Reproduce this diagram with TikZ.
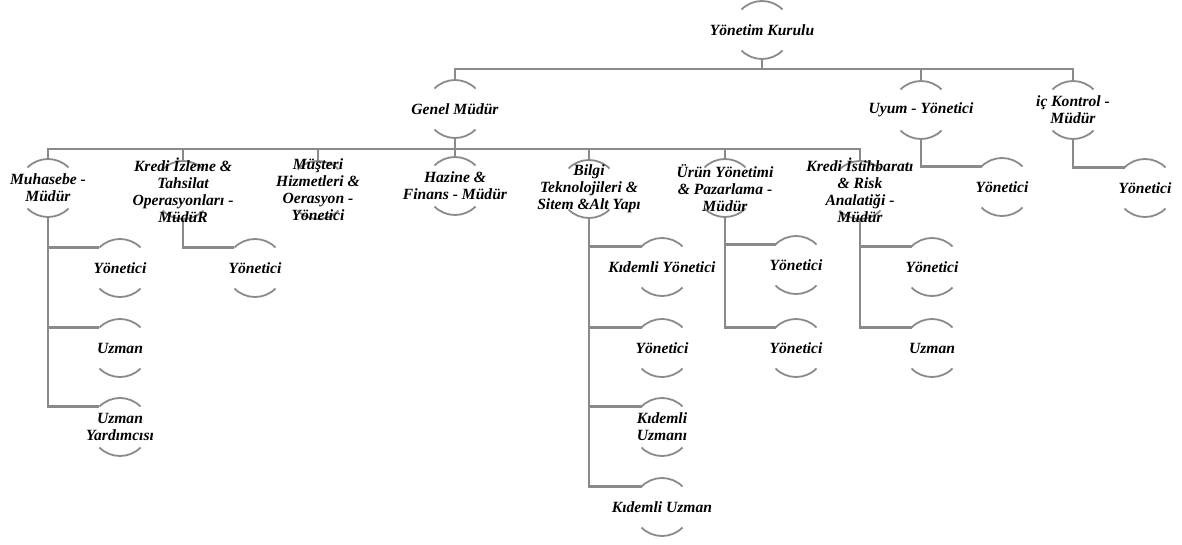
\documentclass[tikz,border=0pt]{standalone}
\usepackage{fontspec}
\setmainfont{Liberation Serif}
\usetikzlibrary{backgrounds}

\definecolor{linegray}{RGB}{138,138,138}
\tikzset{
  post/.style={align=center, inner sep=0pt, text=black,
    font=\fontsize{15.6}{17}\selectfont\bfseries\itshape},
  conn/.style={draw=linegray, line width=2.4pt},
  rim/.style={draw=linegray, line width=1.8pt},
}

\begin{document}
\begin{tikzpicture}[x=1pt,y=1pt]
\useasboundingbox (0,0) rectangle (1182,-544);

% top levels
\node[post] (yk) at (762,-30) {Yönetim Kurulu};
\node[post] (gm) at (455,-109) {Genel Müdür};
\node[post] (uy) at (921,-110) {Uyum - Yönetici};
\node[post] (ik) at (1073,-110) {iç Kontrol -\\Müdür};
\node[post] (uy1) at (1002,-187) {Yönetici};
\node[post] (ik1) at (1145,-188) {Yönetici};

% departments
\node[post] (mh) at (48,-188) {Muhasebe -\\Müdür};
\node[post] (kiz) at (183,-190) {Kredi İzleme \&\\Tahsilat\\Operasyonları -\\MüdüR};
\node[post] (ms) at (318,-190) {Müşteri\\Hizmetleri \&\\Oerasyon -\\Yönetici};
\node[post] (hz) at (455,-186) {Hazine \&\\Finans - Müdür};
\node[post] (bt) at (589,-189) {Bilgi\\Teknolojileri \&\\Sitem \&Alt Yapı};
\node[post] (ur) at (725,-188) {Ürün Yönetimi\\\& Pazarlama -\\Müdür};
\node[post] (kis) at (860,-190) {Kredi İstihbaratı\\\& Risk\\Analatiği -\\Müdür};

% staff
\node[post] (mh1) at (120,-268) {Yönetici};
\node[post] (mh2) at (120,-348) {Uzman};
\node[post] (mh3) at (120,-427) {Uzman\\Yardımcısı};
\node[post] (kiz1) at (255,-268) {Yönetici};
\node[post] (bt1) at (662,-267) {Kıdemli Yönetici};
\node[post] (bt2) at (662,-348) {Yönetici};
\node[post] (bt3) at (662,-427) {Kıdemli\\Uzmanı};
\node[post] (bt4) at (662,-507) {Kıdemli Uzman};
\node[post] (ur1) at (796,-265) {Yönetici};
\node[post] (ur2) at (796,-348) {Yönetici};
\node[post] (kis1) at (932,-267) {Yönetici};
\node[post] (kis2) at (932,-348) {Uzman};

\coordinate (b0) at (762,-69);
\coordinate (b1) at (455,-149);

\begin{scope}[on background layer]
% arcs
\foreach \n in {yk,gm,uy,ik,uy1,ik1,mh,kiz,ms,hz,bt,ur,kis,
                mh1,mh2,mh3,kiz1,bt1,bt2,bt3,bt4,ur1,ur2,kis1,kis2} {
  \draw[rim] ([shift={(45:29pt)}]\n.center) arc (45:135:29pt);
  \draw[rim] ([shift={(225:29pt)}]\n.center) arc (225:315:29pt);
}

% bars
\draw[conn] ([yshift=-29pt]yk.center) -- (b0);
\draw[conn] ([yshift=29pt]gm.center) |- (b0) -| ([yshift=29pt]ik.center);
\draw[conn] (b0) -| ([yshift=29pt]uy.center);
\draw[conn] ([yshift=-29pt]gm.center) -- (b1);
\draw[conn] ([yshift=29pt]mh.center) |- (b1) -| ([yshift=29pt]kis.center);
\foreach \n in {kiz,ms,hz,bt,ur}
  \draw[conn] (\n.center |- b1) -- ([yshift=29pt]\n.center);

% elbows
\foreach \p/\c in {uy/uy1,ik/ik1,mh/mh1,mh/mh2,mh/mh3,kiz/kiz1,
                   bt/bt1,bt/bt2,bt/bt3,bt/bt4,ur/ur1,ur/ur2,kis/kis1,kis/kis2}
  \draw[conn] ([yshift=-29pt]\p.center) |- ([shift={(135:29pt)}]\c.center);
\end{scope}

\end{tikzpicture}
\end{document}
